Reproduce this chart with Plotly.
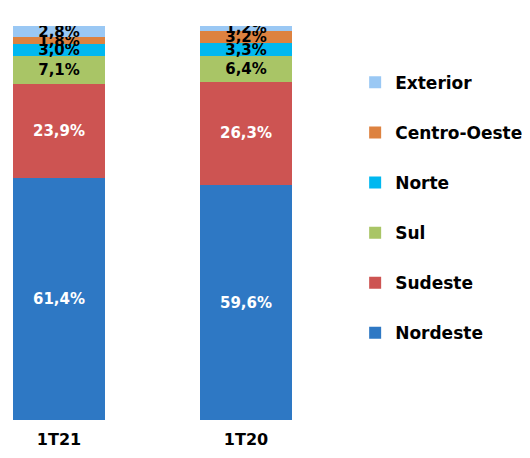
import plotly.graph_objects as go

categories = ["1T21", "1T20"]
series_names = ["Nordeste", "Sudeste", "Sul", "Norte", "Centro-Oeste", "Exterior"]
nordeste = [61.4, 59.6]
sudeste = [23.9, 26.3]
sul = [7.1, 6.4]
norte = [3.0, 3.3]
centro_oeste = [1.8, 3.2]
exterior = [2.8, 1.2]
values = [nordeste, sudeste, sul, norte, centro_oeste, exterior]

colors = ["#2E78C4", "#CD5452", "#A9C566", "#00B8F0", "#DD8240", "#9AC8F4"]
text_colors = ["white", "white", "black", "black", "black", "black"]

FONT = "DejaVu Sans"

fig = go.Figure()
for i, (name, vals, col, tcol) in enumerate(zip(series_names, values, colors, text_colors)):
    fig.add_trace(go.Bar(
        x=categories, y=vals, name=name,
        marker=dict(color=col, line=dict(width=0)),
        width=0.492,
        text=[f"{v:.1f}%".replace(".", ",") for v in vals],
        textposition="inside",
        insidetextanchor="middle",
        textangle=0,
        constraintext="none",
        textfont=dict(color=tcol, size=15, family=FONT, weight="bold"),
        legendgroup=name,
        legendrank=len(series_names) - i,
    ))

fig.update_layout(
    width=530, height=458,
    barmode="stack",
    plot_bgcolor="white", paper_bgcolor="white",
    margin=dict(l=0, r=230, t=18, b=46, autoexpand=False),
    showlegend=True,
    legend=dict(
        traceorder="grouped",
        tracegroupgap=25,
        xref="container", yref="container",
        x=0.655, xanchor="left",
        y=0.876, yanchor="top",
        maxheight=1,
        font=dict(size=17, family=FONT, color="black", weight="bold"),
        itemwidth=30,
    ),
    xaxis=dict(
        range=[-0.2727, 1.3316],
        showline=False, showgrid=False, zeroline=False,
        tickfont=dict(size=16, family=FONT, color="black", weight="bold"),
        ticks="",
        ticklabelstandoff=8,
    ),
    yaxis=dict(range=[0, 100], visible=False),
)

fig.write_html("out.html")
